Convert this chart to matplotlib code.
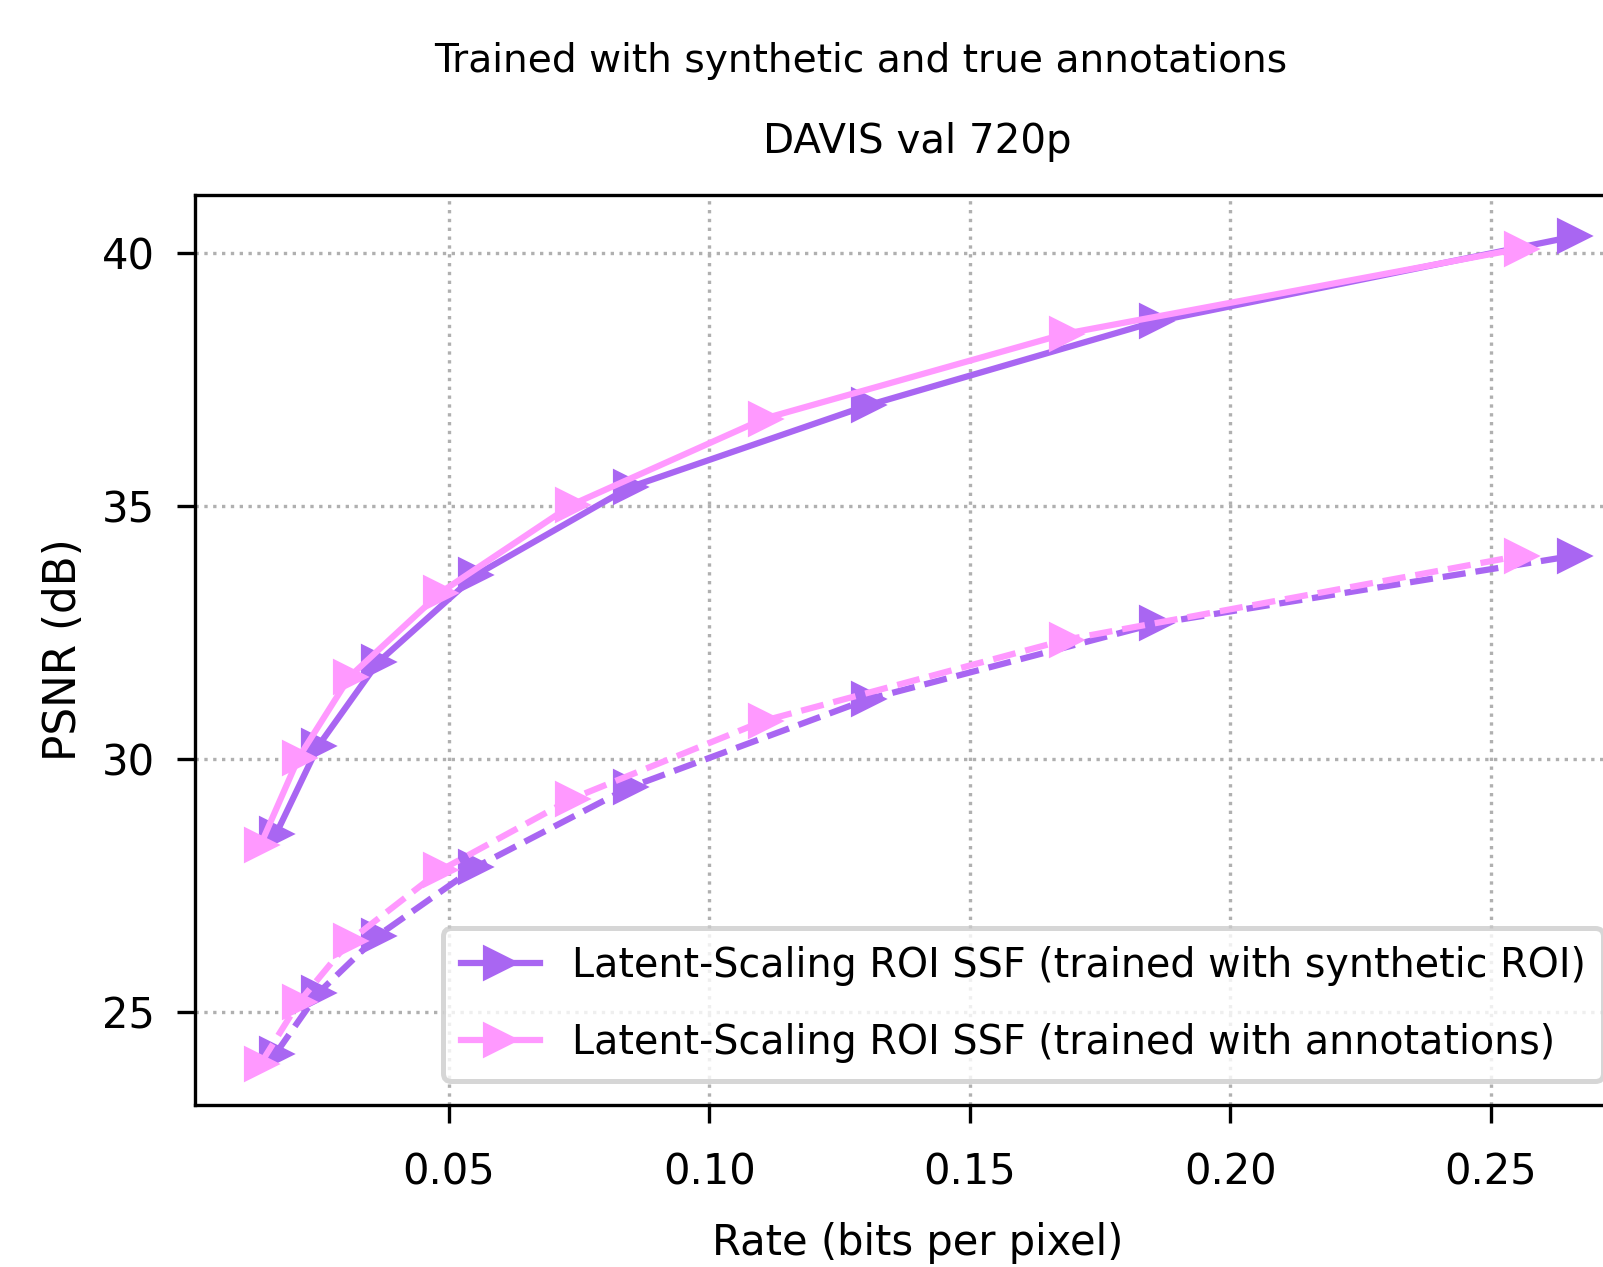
import matplotlib
matplotlib.use('Agg')
import matplotlib.pyplot as plt

# rate (bpp) and PSNR (dB)
rate_syn = [0.0168, 0.0249, 0.0364, 0.0551, 0.0847, 0.1304, 0.1858, 0.2660]
roi_syn = [28.50, 30.24, 31.90, 33.62, 35.36, 36.98, 38.64, 40.32]
bg_syn = [24.17, 25.36, 26.50, 27.85, 29.43, 31.17, 32.67, 34.01]

rate_ann = [0.0139, 0.0212, 0.0310, 0.0484, 0.0737, 0.1106, 0.1685, 0.2557]
roi_ann = [28.30, 30.02, 31.62, 33.28, 35.02, 36.72, 38.40, 40.08]
bg_ann = [23.97, 25.18, 26.40, 27.79, 29.21, 30.75, 32.35, 34.01]

labels = ['Latent-Scaling ROI SSF (trained with synthetic ROI)',
          'Latent-Scaling ROI SSF (trained with annotations)']
purple = '#a966f2'
pink = '#ff99ff'

dpi = 300
fig = plt.figure(figsize=(1603 / dpi, 1267 / dpi), dpi=dpi)
# axes runs past the right edge of the figure, like the cropped original
ax = fig.add_axes([195 / 1603, 1 - 1105 / 1267, 1445 / 1603, 910 / 1267])

ax.plot(rate_syn, roi_syn, marker='>', color=purple, markersize=7, label=labels[0])
ax.plot(rate_ann, roi_ann, marker='>', color=pink, markersize=7, label=labels[1])
ax.plot(rate_syn, bg_syn, marker='>', color=purple, markersize=7, linestyle='--')
ax.plot(rate_ann, bg_ann, marker='>', color=pink, markersize=7, linestyle='--')

ax.grid(True, linestyle=':')
ax.set_xticks([0.05, 0.10, 0.15, 0.20, 0.25])
ax.set_yticks([25, 30, 35, 40])
ax.tick_params(axis='x', length=4.3, pad=6.8)
ax.tick_params(axis='y', length=4.3, pad=5.3)
ax.set_xlabel('Rate (bits per pixel)', labelpad=7)
ax.set_ylabel('PSNR (dB)', labelpad=4, fontsize=10.5)
ax.set_title('DAVIS val 720p', fontsize=9.7, pad=10)
fig.suptitle('Trained with synthetic and true annotations', fontsize=9.4,
             x=861 / 1603, y=1 - 42 / 1267, va='top')
leg = ax.legend(loc='lower left', bbox_to_anchor=(443 / 1603, 1 - 1081 / 1267),
                bbox_transform=fig.transFigure, borderaxespad=0,
                fontsize=9.5, labelspacing=0.95, borderpad=0.45)
leg.get_frame().set_linewidth(1.2)

fig.savefig('out.png', dpi=dpi)
